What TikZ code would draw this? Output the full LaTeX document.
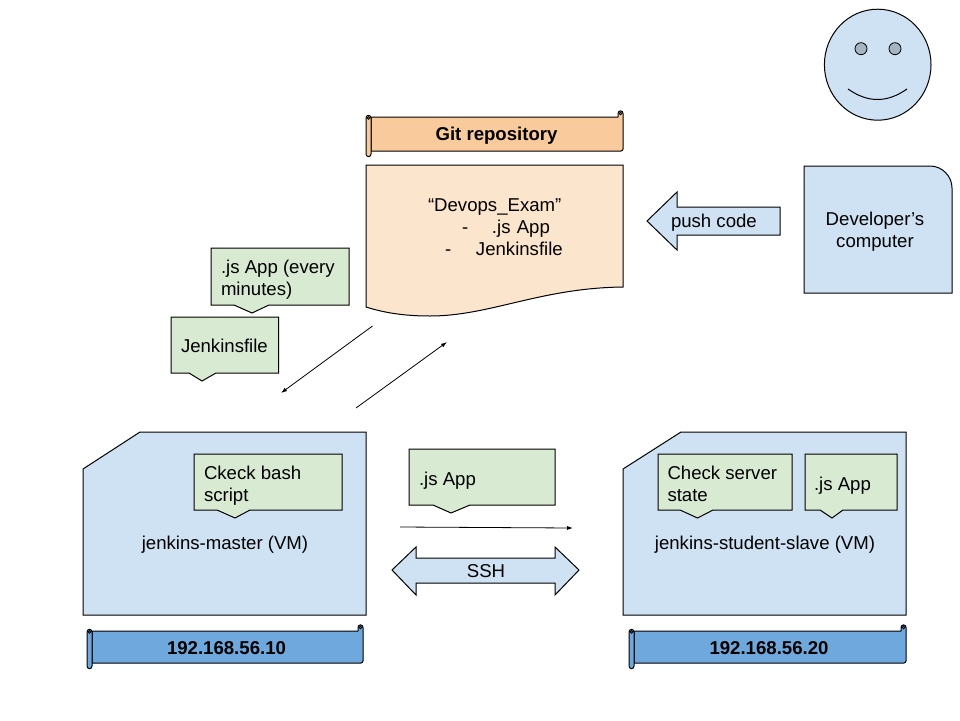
\documentclass[tikz,border=0pt]{standalone}
\usepackage{fontspec}
\setmainfont{Liberation Sans}
\definecolor{lblue}{HTML}{CFE2F3}
\definecolor{lgreen}{HTML}{D9EAD3}
\definecolor{lorange}{HTML}{FCE5CD}
\definecolor{morange}{HTML}{F9CB9C}
\definecolor{mblue}{HTML}{6FA8DC}
\definecolor{eyeblue}{HTML}{A6B5C2}
\newcommand{\scrollshape}[5]{% x0,x1,y0,y1,colour
  \draw[line width=1pt,line join=round,fill=#5] (#1+5,#3) -- (#2-5,#3) -- (#2-5,#3-3.5) .. controls (#2-5,#3-7) and (#2,#3-7) .. (#2,#3-3.5) -- (#2,#4-2) .. controls (#2,#4-1) and (#2-1,#4) .. (#2-2,#4) -- (#1+5,#4) -- cycle;
  \draw[line width=1pt,fill=#5] (#1,#3+1) .. controls (#1,#3-2.5) and (#1+5,#3-2.5) .. (#1+5,#3+1) -- (#1+5,#4+3) .. controls (#1+5,#4+6.5) and (#1,#4+6.5) .. (#1,#4+3) -- cycle;
  \draw[line width=.7pt,fill=#5!70!black] (#1+2.5,#3+1) circle[radius=1.4];
  \draw[line width=.7pt,fill=#5!70!black] (#2-2.5,#3-3.5) circle[radius=1.4];
}
\newcommand{\calloutshape}[7]{% x0,x1,y0,y1,p0,tip,p1
  \draw[shapeline,fill=lgreen] (#1,#3) -- (#2,#3) -- (#2,#4) -- (#7,#4) -- (#6,#4+8) -- (#5,#4) -- (#1,#4) -- cycle;
}
\tikzset{
  x=1pt,y=-1pt,
  shapeline/.style={line width=1pt,line join=miter,draw=black},
  label/.style={inner sep=0pt,outer sep=0pt,font=\fontsize{18.6}{22}\selectfont,align=left},
  ctr/.style={inner sep=0pt,outer sep=0pt,font=\fontsize{18.6}{22}\selectfont,align=center},
  bold/.style={inner sep=0pt,outer sep=0pt,font=\fontsize{18.6}{22}\selectfont\bfseries,align=center},
  conn/.style={line width=.8pt,-{Latex[length=6pt,width=4pt]}}
}
\usetikzlibrary{arrows.meta}
\begin{document}
\begin{tikzpicture}
\useasboundingbox (0,0) rectangle (960,720);
\fill[white] (0,0) rectangle (960,720);
% face
\draw[line width=1pt,fill=lblue] (877.7,64.7) ellipse[x radius=53.3,y radius=55.5];
\draw[line width=.8pt,fill=eyeblue] (861,48.7) circle[radius=6];
\draw[line width=.8pt,fill=eyeblue] (895,48.7) circle[radius=6];
\draw[line width=1pt] (848,89) .. controls (868,103) and (887,103) .. (907,89);
% developer box
\draw[shapeline,fill=lblue] (804,166) -- (930,166) .. controls (942,166) and (952,176) .. (952,188) -- (952,293) -- (804,293) -- cycle;
\node[ctr] (dev) at (875,231.5) {Developer’s\\computer};
% push arrow
\draw[shapeline,fill=lblue] (647,221) -- (677,192) -- (677,207) -- (780,207) -- (780,235) -- (677,235) -- (677,250) -- cycle;
\node[ctr,anchor=base west] (push) at (671,227) {push code};
% git scroll
\scrollshape{366}{623}{117}{151}{morange}
\node[bold] (git) at (496.5,135.5) {Git repository};
% document
\draw[shapeline,fill=lorange] (366,165) -- (623,165) -- (623,287) .. controls (540,288) and (490,316) .. (430,316) .. controls (405,316) and (385,313) .. (366,307) -- cycle;
\node[label,anchor=north west,text width=190pt] (repo) at (428,199) {“Devops\_Exam”\\\hspace*{34pt}-\hspace{23.8pt}.js App\\\hspace*{17pt}-\hspace{24.8pt}Jenkinsfile};
% callouts left
\calloutshape{211}{349}{248}{305}{234}{252}{269}
\node[label,anchor=north west] (every) at (221,260) {.js App (every\\minutes)};
\calloutshape{171}{278.5}{317}{373}{189}{202}{216}
\node[label,anchor=base west] (jf) at (181,352) {Jenkinsfile};
% connectors to repo
\coordinate (a1) at (372.5,326); \coordinate (a2) at (281,393);
\coordinate (b1) at (356,408); \coordinate (b2) at (447,342);
\draw[conn] (a1) -- (a2);
\draw[conn] (b1) -- (b2);
% master
\draw[shapeline,fill=lblue] (140,432) -- (366,432) -- (366,615) -- (83,615) -- (83,469) -- cycle;
\calloutshape{194}{342}{454}{510}{217}{235}{250}
\node[label,anchor=north west] (bash) at (204,466) {Ckeck bash\\script};
\node[ctr,anchor=base] (master) at (225,549) {jenkins-master (VM)};
% slave
\draw[shapeline,fill=lblue] (681,432) -- (906,432) -- (906,615) -- (623,615) -- (623,469) -- cycle;
\calloutshape{658}{792}{454}{510}{680}{697.5}{713}
\node[label,anchor=north west] (state) at (667.5,466) {Check server\\state};
\calloutshape{805}{897}{454}{510}{820}{832}{843}
\node[label,anchor=base west] (jsb) at (814,490) {.js App};
\node[ctr,anchor=base] (slave) at (765,549) {jenkins-student-slave (VM)};
% middle
\calloutshape{409}{555}{449}{505}{433}{451}{470}
\node[label,anchor=base west] (jsm) at (419,485) {.js App};
\coordinate (c1) at (400,527); \coordinate (c2) at (573,528);
\draw[conn] (c1) -- (c2);
\draw[shapeline,fill=lblue] (392,570) -- (416,547) -- (416,558) -- (555,558) -- (555,547) -- (579,570) -- (555,595) -- (555,583) -- (416,583) -- (416,595) -- cycle;
\node[ctr,anchor=base] (ssh) at (486,577) {SSH};
% ip scrolls
\scrollshape{87}{363}{631}{663}{mblue}
\node[bold] (ipa) at (226.5,648) {192.168.56.10};
\scrollshape{629}{906}{631}{663}{mblue}
\node[bold] (ipb) at (769,648) {192.168.56.20};
\end{tikzpicture}
\end{document}
